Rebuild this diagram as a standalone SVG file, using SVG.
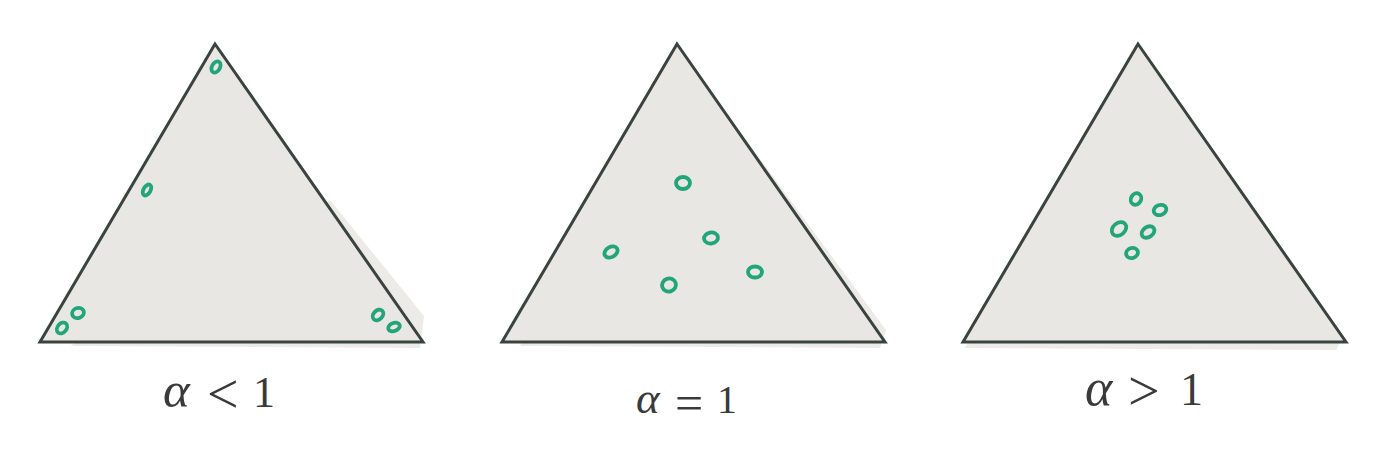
<svg xmlns="http://www.w3.org/2000/svg" width="1400" height="453" viewBox="0 0 1400 453">
<style>
.tri{fill:#e8e7e3;stroke:#3b4341;stroke-width:3;stroke-linejoin:miter}
.shadow{fill:#ecebe8}
.dot{fill:none;stroke:#22a57a;stroke-width:3.8}
.lbl{font-family:"Liberation Serif","DejaVu Serif",serif;fill:#3a3a3a}
.it{font-style:italic}
</style>
<rect width="1400" height="453" fill="#ffffff"/>
<g id="simplex-lt">
<polygon class="shadow" points="330,200 424,316 420,348 70,346"/>
<polygon class="tri" points="215,44 423,342 40,342"/>
<g transform="translate(216,67) rotate(-60)"><ellipse class="dot" rx="6" ry="4"/></g>
<g transform="translate(147,190) rotate(-60)"><ellipse class="dot" rx="6" ry="3.5"/></g>
<g transform="translate(78,313) rotate(-20)"><ellipse class="dot" rx="6" ry="5"/></g>
<g transform="translate(62,328) rotate(-50)"><ellipse class="dot" rx="6" ry="4.5"/></g>
<g transform="translate(378,315) rotate(-45)"><ellipse class="dot" rx="6" ry="4.5"/></g>
<g transform="translate(394,327) rotate(-20)"><ellipse class="dot" rx="6" ry="4"/></g>
<text class="lbl" y="407" font-size="44"><tspan class="it" x="163" font-size="51">α</tspan><tspan x="207" y="413" font-size="56">&lt;</tspan><tspan x="253" y="407">1</tspan></text>
</g>
<g id="simplex-eq">
<polygon class="shadow" points="680,50 886,330 880,348 520,346"/>
<polygon class="tri" points="677,44 885,342 502,342"/>
<g transform="translate(683,183)"><ellipse class="dot" rx="7" ry="6"/></g>
<g transform="translate(711,238) rotate(-10)"><ellipse class="dot" rx="7" ry="5.5"/></g>
<g transform="translate(611,252) rotate(-30)"><ellipse class="dot" rx="7" ry="5"/></g>
<g transform="translate(669,285) rotate(-20)"><ellipse class="dot" rx="7" ry="6.5"/></g>
<g transform="translate(755,272)"><ellipse class="dot" rx="7" ry="5.5"/></g>
<text class="lbl" y="413" font-size="40"><tspan class="it" x="636" font-size="45">α</tspan><tspan x="675" y="420" font-size="50">=</tspan><tspan x="717" y="413">1</tspan></text>
</g>
<g id="simplex-gt">
<polygon class="shadow" points="1134,50 1342,338 1336,350 965,348"/>
<polygon class="tri" points="1138,44 1346,342 963,342"/>
<g transform="translate(1136,199) rotate(-60)"><ellipse class="dot" rx="6" ry="5"/></g>
<g transform="translate(1160,210) rotate(-20)"><ellipse class="dot" rx="6.5" ry="5"/></g>
<g transform="translate(1119,229) rotate(-40)"><ellipse class="dot" rx="8" ry="6"/></g>
<g transform="translate(1148,232) rotate(-35)"><ellipse class="dot" rx="7" ry="5"/></g>
<g transform="translate(1132,253) rotate(-20)"><ellipse class="dot" rx="6" ry="5"/></g>
<text class="lbl" y="405" font-size="46"><tspan class="it" x="1085" font-size="52">α</tspan><tspan x="1128" y="410" font-size="56">&gt;</tspan><tspan x="1180" y="405">1</tspan></text>
</g>
<g id="connectors"/>
</svg>
